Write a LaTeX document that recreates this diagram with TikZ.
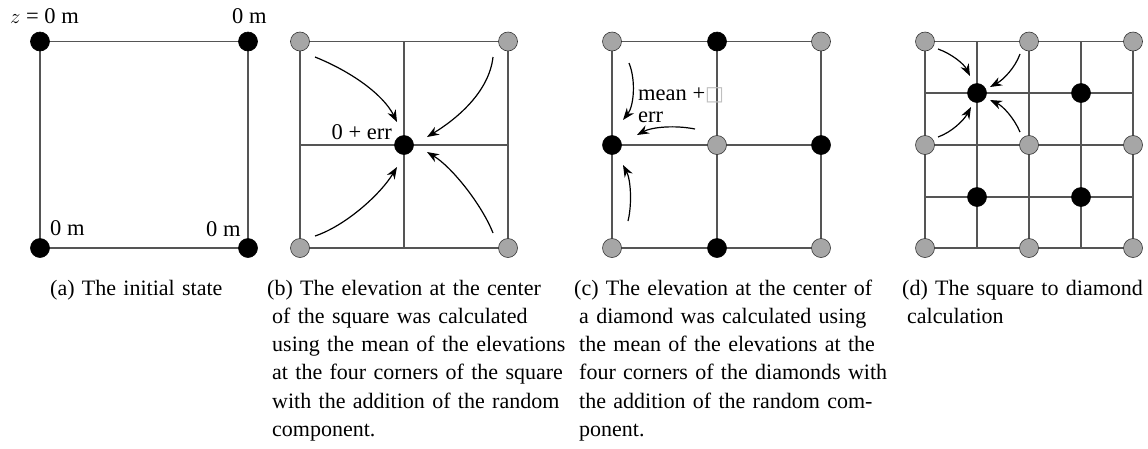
\documentclass[tikz,border=0pt]{standalone}
\usepackage{fontspec}
\setmainfont{Liberation Serif}
\newfontfamily\symfont{DejaVu Sans}
\usetikzlibrary{arrows.meta}
\definecolor{gridc}{RGB}{85,85,85}
\definecolor{dotgray}{RGB}{166,166,166}
\begin{document}
\begin{tikzpicture}[x=1pt,y=-1pt,
  gridline/.style={draw=gridc,line width=1.1pt},
  bdot/.style={circle,fill=black,draw=black,line width=0.6pt,minimum size=19pt,inner sep=0pt},
  gdot/.style={circle,fill=dotgray,draw=black!80,line width=0.6pt,minimum size=19pt,inner sep=0pt},
  lab/.style={font=\fontsize{22.5}{26}\selectfont,inner sep=0pt},
  captext/.style={font=\fontsize{22}{28.3}\selectfont,inner sep=0pt,text width=400pt,align=left,anchor=base west},
  arr/.style={line width=1.2pt,-{Stealth[length=12pt,width=9pt]}}]
\useasboundingbox (0,0) rectangle (1148,448);
% ---------- (a)
\draw[gridline] (40,41.5) rectangle (248,248);
\node[bdot] (a1) at (40,41.5) {};
\node[bdot] (a2) at (248,41.5) {};
\node[bdot] (a3) at (40,248) {};
\node[bdot] (a4) at (248,248) {};
\node[lab,anchor=base west] (la1) at (10,23) {$z$ = 0 m};
\node[lab,anchor=base west] (la2) at (232,23) {0 m};
\node[lab,anchor=base west] (la3) at (50,235) {0 m};
\node[lab,anchor=base west] (la4) at (206,236) {0 m};
% ---------- (b)
\draw[gridline] (300,41.5) rectangle (508,248);
\draw[gridline] (404,41.5) -- (404,248);
\draw[gridline] (300,145) -- (508,145);
\node[gdot] (b1) at (300,41.5) {};
\node[gdot] (b2) at (508,41.5) {};
\node[gdot] (b3) at (300,248) {};
\node[gdot] (b4) at (508,248) {};
\node[bdot] (bc) at (404,145) {};
\node[lab,anchor=base east] (lb) at (392,139) {0 + err};
\coordinate (bs1) at (315,57);  \coordinate (be1) at (397,122);
\coordinate (bs2) at (493,57);  \coordinate (be2) at (427,137);
\coordinate (bs3) at (315,236); \coordinate (be3) at (397,167);
\coordinate (bs4) at (493,233); \coordinate (be4) at (427,152);
\draw[arr] (bs1) .. controls (350,71) and (383,94) .. (be1);
\draw[arr] (bs2) .. controls (489,93) and (455,120) .. (be2);
\draw[arr] (bs3) .. controls (345,226) and (380,195) .. (be3);
\draw[arr] (bs4) .. controls (482,205) and (452,167) .. (be4);
% ---------- (c)
\draw[gridline] (612,41.5) rectangle (821,248);
\draw[gridline] (717,41.5) -- (717,248);
\draw[gridline] (612,145) -- (821,145);
\node[gdot] (c11) at (612,41.5) {};
\node[bdot] (c12) at (717,41.5) {};
\node[gdot] (c13) at (821,41.5) {};
\node[bdot] (c21) at (612,145) {};
\node[gdot] (c22) at (717,145) {};
\node[bdot] (c23) at (821,145) {};
\node[gdot] (c31) at (612,248) {};
\node[bdot] (c32) at (717,248) {};
\node[gdot] (c33) at (821,248) {};
\node[lab,anchor=base west] (lc1) at (638,100) {mean +{\symfont\fontsize{20}{20}\selectfont\color{gray!50}□}};
\node[lab,anchor=base west] (lc2) at (638,122) {err};
\coordinate (cs1) at (629,63);  \coordinate (ce1) at (623,120);
\coordinate (cs2) at (695,129); \coordinate (ce2) at (637,135);
\coordinate (cs3) at (628,221); \coordinate (ce3) at (623,165);
\draw[arr] (cs1) .. controls (636,80) and (634,106) .. (ce1);
\draw[arr] (cs2) .. controls (675,125) and (652,127) .. (ce2);
\draw[arr] (cs3) .. controls (632,205) and (631,180) .. (ce3);
% ---------- (d)
\foreach \x in {925,977,1029,1081,1133} \draw[gridline] (\x,41.5) -- (\x,248);
\foreach \y in {41.5,93,145,197,248} \draw[gridline] (925,\y) -- (1133,\y);
\node[gdot] (d11) at (925,41.5) {};
\node[gdot] (d12) at (1029,41.5) {};
\node[gdot] (d13) at (1133,41.5) {};
\node[gdot] (d21) at (925,145) {};
\node[gdot] (d22) at (1029,145) {};
\node[gdot] (d23) at (1133,145) {};
\node[gdot] (d31) at (925,248) {};
\node[gdot] (d32) at (1029,248) {};
\node[gdot] (d33) at (1133,248) {};
\node[bdot] (e1) at (977,93) {};
\node[bdot] (e2) at (1081,93) {};
\node[bdot] (e3) at (977,197) {};
\node[bdot] (e4) at (1081,197) {};
\coordinate (ds1) at (938,49);   \coordinate (de1) at (970,76);
\coordinate (ds2) at (1020,54);  \coordinate (de2) at (990,87);
\coordinate (ds3) at (938,137);  \coordinate (de3) at (971,107);
\coordinate (ds4) at (1020,132); \coordinate (de4) at (990,100);
\draw[arr] (ds1) .. controls (952,54) and (964,64) .. (de1);
\draw[arr] (ds2) .. controls (1015,68) and (1003,80) .. (de2);
\draw[arr] (ds3) .. controls (952,132) and (964,120) .. (de3);
\draw[arr] (ds4) .. controls (1014,118) and (1003,106) .. (de4);
% ---------- captions
\node[captext] (capa) at (50,295) {(a) The initial state};
\node[captext] (capb) at (267,295) {(b) The elevation at the center\\\hspace*{5pt}of the square was calculated\\\hspace*{5pt}using the mean of the elevations\\\hspace*{5pt}at the four corners of the square\\\hspace*{5pt}with the addition of the random\\\hspace*{5pt}component.};
\node[captext] (capc) at (574,295) {(c) The elevation at the center of\\\hspace*{5pt}a diamond was calculated using\\\hspace*{5pt}the mean of the elevations at the\\\hspace*{5pt}four corners of the diamonds with\\\hspace*{5pt}the addition of the random com-\\\hspace*{5pt}ponent.};
\node[captext] (capd) at (902,295) {(d) The square to diamond\\\hspace*{5pt}calculation};
\end{tikzpicture}
\end{document}
